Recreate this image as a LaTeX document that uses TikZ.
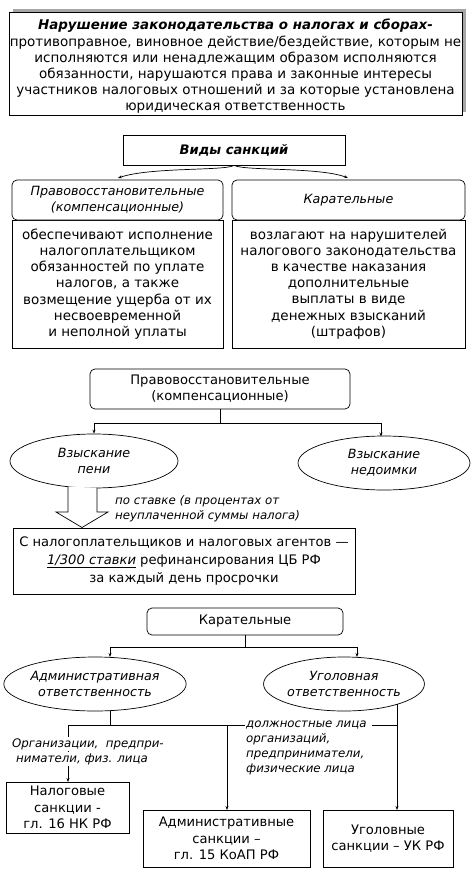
\documentclass[tikz,border=0pt]{standalone}
\usepackage{fontspec}
\setmainfont{DejaVu Sans}
\usetikzlibrary{shapes.geometric,arrows.meta}
\begin{document}
\begin{tikzpicture}[x=1pt,y=-1pt,
  every node/.style={font=\fontsize{13.1}{16.2}\selectfont, align=center, inner sep=0pt},
  big/.style={font=\fontsize{13.5}{16.2}\selectfont},
  it/.style={font=\fontsize{12.7}{16}\selectfont\itshape},
  box/.style={draw, line width=0.7pt, fill=white},
  rbox/.style={draw, line width=0.7pt, fill=white, rounded corners=5pt},
  ell/.style={draw, line width=0.7pt, ellipse, fill=white},
  con/.style={line width=0.7pt},
  arr/.style={line width=0.7pt, -{Stealth[length=4pt,width=3pt]}},
  lbl/.style={fill=white, inner sep=1pt, font=\fontsize{11.8}{15}\selectfont\itshape, align=left}]
\useasboundingbox (0,0) rectangle (473,872);
% top box with shadow
\fill[gray!70] (12.5,9) rectangle (465.5,112);
\node[box, minimum width=453pt, minimum height=103pt] (top) at (235.5,63.5) {};
\node[big] (toptext) at (235.5,66.5) {{\fontsize{13.4}{16.2}\selectfont\bfseries\itshape Нарушение законодательства о налогах и сборах-}\\
противоправное, виновное действие/бездействие, которым не\\
исполняются или ненадлежащим образом исполняются\\
обязанности, нарушаются права и законные интересы\\
участников налоговых отношений и за которые установлена\\
юридическая ответственность};
% Виды санкций
\node[box, minimum width=222pt, minimum height=30pt, font=\fontsize{13.1}{16}\selectfont\bfseries\itshape] (vid) at (234,150) {Виды санкций};
% left column
\node[box, minimum width=211pt, minimum height=128pt] (lbody) at (117.5,284) {};
\node[big] (lbodytext) at (117.5,284) {обеспечивают исполнение\\
налогоплательщиком\\
обязанностей по уплате\\
налогов, а также\\
возмещение ущерба от их\\
несвоевременной\\
и неполной уплаты};
\node[rbox, it, minimum width=211pt, minimum height=40pt] (lhead) at (117.5,200) {Правовосстановительные\\(компенсационные)};
% right column
\node[box, minimum width=233pt, minimum height=128pt] (rbody) at (348.5,284) {};
\node[big] (rbodytext) at (348.5,284) {возлагают на нарушителей\\
налогового законодательства\\
в качестве наказания\\
дополнительные\\
выплаты в виде\\
денежных взысканий\\
(штрафов)};
\node[rbox, it, minimum width=233pt, minimum height=40pt] (rhead) at (348.5,200) {Карательные};
% curved arrows
\coordinate (vidl) at (118,178);
\coordinate (vidr) at (348,178);
\draw[arr] (vid.south) .. controls (226,171) and (150,167) .. (vidl);
\draw[arr] (vid.south) .. controls (244,171) and (320,167) .. (vidr);
% section 3
\node[rbox, minimum width=260pt, minimum height=40pt] (pbox) at (220,389) {Правовосстановительные\\(компенсационные)};
\node[ell, it, minimum width=168pt, minimum height=54pt] (peni) at (94,461) {Взыскание\\пени};
\node[ell, it, minimum width=172pt, minimum height=54pt] (nedo) at (384,463) {Взыскание\\недоимки};
\coordinate (pj) at (220,423);
\coordinate (pjl) at (94,423);
\coordinate (pjr) at (381,423);
\coordinate (pjre) at (381,436.5);
\draw[con] (pbox.south) -- (pj);
\draw[con] (pjl) -- (pjr);
\draw[arr] (pjl) -- (peni.north);
\draw[arr] (pjr) -- (pjre);
% hollow arrow
\node[box, minimum width=342pt, minimum height=66pt, font=\fontsize{13.1}{18}\selectfont] (stavka) at (184,561) {С налогоплательщиков и налоговых агентов —\\
\underline{\itshape 1/300 ставки} рефинансирования ЦБ РФ\\
за каждый день просрочки};
\draw[line width=0.7pt, fill=white] (68,486.5) -- (68,512) -- (56,512) -- (82,527.5) -- (108,512) -- (97,512) -- (97,487.8);
\node[lbl, anchor=west, fill=none] (stlbl) at (114,508.5) {по ставке (в процентах от\\неуплаченной суммы налога)};
% section 4
\node[rbox, minimum width=196pt, minimum height=27pt] (kbox) at (245,621.5) {Карательные};
\node[ell, it, minimum width=160pt, minimum height=54pt] (adm) at (95,684) {Административная\\ответственность};
\node[ell, it, minimum width=155pt, minimum height=54pt] (ugo) at (344,684) {Уголовная\\ответственность};
\coordinate (kj) at (245,647);
\coordinate (kjl) at (110,647);
\coordinate (kjr) at (357,647);
\coordinate (kjle) at (110,657);
\coordinate (kjre) at (357,657);
\draw[con] (kbox.south) -- (kj);
\draw[con] (kjl) -- (kjr);
\draw[arr] (kjl) -- (kjle);
\draw[arr] (kjr) -- (kjre);
% bottom boxes
\node[box, minimum width=123pt, minimum height=51pt] (nal) at (67.5,807.5) {Налоговые\\санкции -\\гл. 16 НК РФ};
\node[box, minimum width=167pt, minimum height=57pt] (adms) at (226.5,838.5) {Административные\\санкции –\\гл. 15 КоАП РФ};
\node[box, minimum width=130pt, minimum height=57pt] (ugs) at (388,838.5) {Уголовные\\санкции – УК РФ};
% connectors section 4
\coordinate (ab) at (110,710.5);
\coordinate (aj) at (110,725);
\coordinate (ajl) at (68,725);
\coordinate (ajm) at (227,725);
\coordinate (aje) at (245,725);
\coordinate (ujl) at (372,725);
\coordinate (ujr) at (397,725);
\coordinate (ub) at (397,703.5);
\coordinate (nalt) at (68,782);
\coordinate (admt) at (227,810);
\coordinate (ugst) at (397,810);
\draw[con] (ab) -- (aj);
\draw[con] (ajl) -- (aje);
\draw[arr] (ajl) -- (nalt);
\draw[arr] (ajm) -- (admt);
\draw[con] (ujl) -- (ujr);
\draw[arr] (ub) -- (ugst);
\node[lbl, anchor=west] (org1) at (11,744) {Организации,~~предпри-};
\node[lbl, anchor=west] (org2) at (15,759) {ниматели, физ. лица};
\node[lbl, anchor=north west, fill=none] (dolzh) at (245,720) {должностные лица\\организаций,\\предприниматели,\\физические лица};
\end{tikzpicture}
\end{document}
